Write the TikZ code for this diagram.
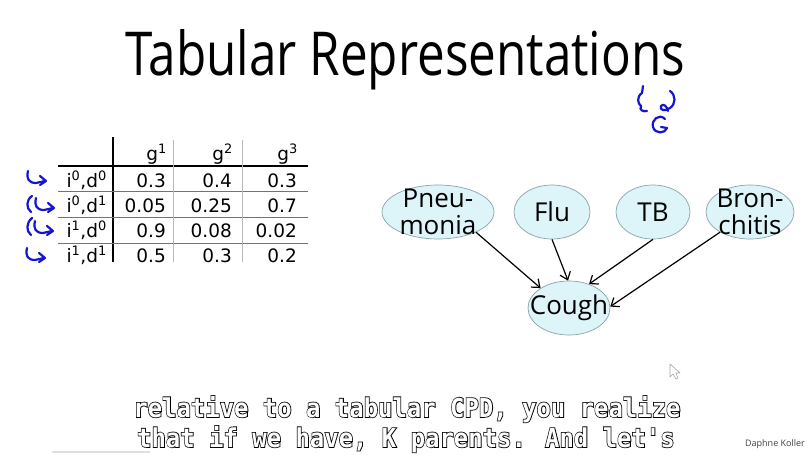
\documentclass[tikz,border=0pt]{standalone}
\usepackage{fontspec}
\setmainfont{DejaVu Sans}
\newfontfamily\handfont{Open Sans}
\newfontfamily\tabfont{DejaVu Sans}
\newfontfamily\capfont{DejaVu Sans Mono Bold}
\newfontfamily\capedge[FakeBold=6]{DejaVu Sans Mono Bold}
\usetikzlibrary{shapes.geometric,arrows.meta}

\definecolor{nodefill}{HTML}{DDF4F8}
\definecolor{nodeedge}{HTML}{8AA4AA}
\definecolor{ink}{HTML}{1515D0}
\definecolor{ruleg}{gray}{0.45}
\definecolor{colg}{gray}{0.72}

\tikzset{
  cell/.style={anchor=base east, inner sep=0pt, font=\tabfont\fontsize{18.5}{18.5}\selectfont},
  hand/.style={ink, line width=2.2pt, line cap=round, line join=round},
  bn/.style={ellipse, draw=nodeedge, fill=nodefill, line width=0.7pt, inner sep=0pt},
  lbl/.style={font=\handfont\fontsize{26}{27}\selectfont, align=center, inner sep=0pt},
  link/.style={-{Straight Barb[length=7pt,width=11pt]}, line width=1.2pt},
  capt/.style={anchor=base, inner sep=0pt},
  hookmark/.pic={
    \draw[hand] (0,0) .. controls (-2,8) and (1,12) .. (8,12) -- (17,10);
    \draw[hand] (12,5) -- (18,10) -- (12,14);
  }
}

% outlined lettering: a widened black copy under white letters
\newcommand\outlined[1]{%
  \scalebox{0.92}[1]{\fontsize{26}{26}\selectfont
    \rlap{\capedge\color{black}#1}{\capfont\color{white}#1}}}

\begin{document}
\begin{tikzpicture}[x=1pt, y=-1pt]
\useasboundingbox (0,0) rectangle (812,455);
\fill[white] (0,0) rectangle (812,455);

% title
\node[anchor=base west, inner sep=0pt] (title) at (125,75)
  {\resizebox{560pt}{46pt}{\handfont\fontsize{60}{60}\selectfont Tabular Representations}};

% table rules
\draw[line width=1.2pt] (113,137) -- (113,262);
\draw[line width=1.2pt] (58,166) -- (308,166);
\foreach \y in {191,217,243} \draw[ruleg, line width=0.9pt] (58,\y) -- (308,\y);
\foreach \x in {173,242} \draw[colg, line width=0.8pt] (\x,140) -- (\x,262);

% table header
\node[cell] (g1) at (167,160) {g\textsuperscript{1}};
\node[cell] (g2) at (233,160) {g\textsuperscript{2}};
\node[cell] (g3) at (298,160) {g\textsuperscript{3}};

% table body
\foreach \lab/\a/\b/\c [count=\i] in {
    {i\textsuperscript{0},d\textsuperscript{0}}/0.3/0.4/0.3,
    {i\textsuperscript{0},d\textsuperscript{1}}/0.05/0.25/0.7,
    {i\textsuperscript{1},d\textsuperscript{0}}/0.9/0.08/0.02,
    {i\textsuperscript{1},d\textsuperscript{1}}/0.5/0.3/0.2} {
  \node[cell] (row\i) at (107,{162+25*\i}) {\lab};
  \node[cell] (row\i a) at (166,{162+25*\i}) {\a};
  \node[cell] (row\i b) at (232,{162+25*\i}) {\b};
  \node[cell] (row\i c) at (297,{162+25*\i}) {\c};
}

% hand-drawn row marks
\pic at (28,171) {hookmark};
\draw[hand] (32,196) .. controls (26,200) and (26,208) .. (31,212);
\pic at (36,198) {hookmark};
\draw[hand] (32,218) .. controls (26,223) and (26,231) .. (31,235);
\pic at (35,221) {hookmark};
\pic at (27,248) {hookmark};

% hand-drawn note under the title
\draw[hand] (643,86) -- (642,93) .. controls (636,97) and (638,104) .. (641,106)
  .. controls (639,110) and (643,112) .. (647,111);
\draw[hand] (670,91) .. controls (676,95) and (676,104) .. (670,108)
  .. controls (665,112) and (659,110) .. (661,106) .. controls (663,103) and (667,106) .. (668,111);
\draw[hand] (665,119) .. controls (659,113) and (651,120) .. (653,127)
  .. controls (655,134) and (665,134) .. (667,128) -- (661,127);

% network
\node[bn, minimum width=112pt, minimum height=54pt,
      label={[lbl]center:Pneu-\\monia}] (pn) at (438,212) {};
\node[bn, minimum width=76pt, minimum height=54pt,
      label={[lbl]center:Flu}] (flu) at (552,212) {};
\node[bn, minimum width=74pt, minimum height=54pt,
      label={[lbl]center:TB}] (tb) at (653,212) {};
\node[bn, minimum width=88pt, minimum height=54pt,
      label={[lbl]center:Bron-\\chitis}] (br) at (750,212) {};
\node[bn, minimum width=82pt, minimum height=54pt,
      label={[lbl]center:Cough}] (co) at (569,308) {};

\draw[link] (pn.-28) -- (co.145);
\draw[link] (flu.-90) -- (co.92);
\draw[link] (tb.-90) -- (co.50);
\draw[link] (br.214) -- (co.2);

% pointer
\draw[gray!70, line width=0.6pt, fill=white, line join=round]
  (670,364) -- (670,377) -- (673,374) -- (676,379) -- (678,378) -- (676,373) -- (680,373) -- cycle;

% captions
\node[capt] (cap1) at (407,417) {\outlined{relative to a tabular CPD, you realize}};
\node[capt] (cap2) at (406,447) {\outlined{that if we have, K parents. And let's}};

% credit and progress bar
\node[font=\handfont\fontsize{9}{9}\selectfont, text=black!75, inner sep=0pt] (credit) at (775,444) {Daphne Koller};
\draw[gray!25, line width=1.5pt] (52,452) -- (150,452);
\end{tikzpicture}
\end{document}
